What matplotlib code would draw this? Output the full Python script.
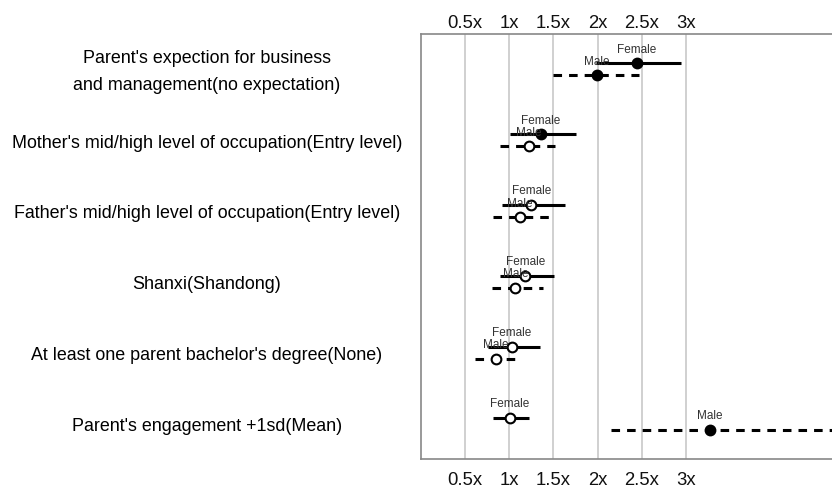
import matplotlib
matplotlib.use("Agg")
import matplotlib.pyplot as plt
import numpy as np

plt.rcParams['font.family'] = ['Liberation Sans', 'DejaVu Sans']

# row labels, top to bottom
labels = ["Parent's expection for business\nand management(no expectation)",
          "Mother's mid/high level of occupation(Entry level)",
          "Father's mid/high level of occupation(Entry level)",
          "Shanxi(Shandong)",
          "At least one parent bachelor's degree(None)",
          "Parent's engagement +1sd(Mean)"]

# odds ratios and confidence intervals
female_or = [2.44, 1.36, 1.25, 1.18, 1.03, 1.01]
female_lo = [1.98, 1.01, 0.92, 0.89, 0.76, 0.82]
female_hi = [2.94, 1.76, 1.63, 1.51, 1.35, 1.22]
female_sig = [True, True, False, False, False, False]

male_or = [1.99, 1.22, 1.12, 1.07, 0.85, 3.27]
male_lo = [1.49, 0.89, 0.82, 0.80, 0.61, 2.15]
male_hi = [2.47, 1.52, 1.46, 1.38, 1.07, 5.20]
male_sig = [True, False, False, False, False, True]

ticks = [0.5, 1, 1.5, 2, 2.5, 3]
ticklabels = ["0.5x", "1x", "1.5x", "2x", "2.5x", "3x"]

fig = plt.figure(figsize=(8.32, 4.89), dpi=100)
ax = fig.add_axes([421/832, 29/489, 1 - 421/832, 425/489])

off = 0.085
rows = np.arange(len(labels))

def draw(ys, est, lo, hi, sig, ls, name):
    for y, e, l, h, s in zip(ys, est, lo, hi, sig):
        ax.plot([l, h], [y, y], color='black', lw=2.2, linestyle=ls,
                solid_capstyle='butt', zorder=3)
        ax.plot(e, y, 'o', ms=7, mfc='black' if s else 'white',
                mec='black', mew=1.5, zorder=4)
        ax.annotate(name, (e, y), xytext=(0, 10.5), textcoords='offset points',
                    ha='center', va='center', fontsize=8.5, color='#333333',
                    zorder=5)

draw(rows - off, female_or, female_lo, female_hi, female_sig, '-', 'Female')
draw(rows + off, male_or, male_lo, male_hi, male_sig, (0, (2.8, 2.3)), 'Male')

ax.set_xlim(0.003, 4.647)
ax.set_ylim(len(labels) - 0.5, -0.5)
ax.set_xticks(ticks)
ax.set_xticklabels(ticklabels)
ax.set_yticks([])
ax.tick_params(axis='x', length=0, pad=8.5, labelsize=13.3, colors='#111111')
ax.grid(axis='x', color='#c8c8c8', lw=1.2, zorder=0)
ax.set_axisbelow(True)
for side in ['left', 'top', 'bottom']:
    ax.spines[side].set_color('#888888')
    ax.spines[side].set_linewidth(1.2)
ax.spines['right'].set_visible(False)

# same ticks repeated on top
top = ax.secondary_xaxis('top')
top.set_xticks(ticks)
top.set_xticklabels(ticklabels)
top.tick_params(length=0, pad=2, labelsize=13.3, colors='#111111')
top.spines['top'].set_visible(False)

for i, lab in enumerate(labels):
    fig.text(207/832, 1 - (72 + 71*i)/489, lab, ha='center', va='center',
             fontsize=12.9, linespacing=1.8)

fig.savefig("out.png", dpi=100)
